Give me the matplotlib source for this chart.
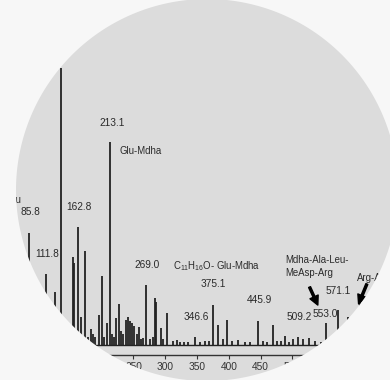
import numpy as np
import matplotlib
matplotlib.use('Agg')
import matplotlib.pyplot as plt
from matplotlib.path import Path
from matplotlib.patches import PathPatch
from matplotlib.transforms import IdentityTransform

# peaks (m/z, relative intensity)
PeakMz = [85.8, 111.8, 126.6, 135.6, 140.0, 145.0, 148.0, 155.0, 156.5, 162.8,
          167.5, 174.3, 178.0, 182.7, 186.0, 190.0, 195.3, 200.0, 204.0, 208.9,
          213.1, 216.0, 219.0, 222.5, 226.8, 231.0, 234.0, 238.3, 241.9, 245.0,
          247.1, 251.2, 255.0, 259.1, 262.0, 265.4, 269.0, 276.0, 280.0, 284.5,
          286.0, 292.8, 297.0, 303.2, 312.6, 317.9, 323.0, 329.9, 336.0, 346.6,
          355.0, 362.5, 368.0, 375.1, 383.4, 390.0, 397.7, 405.0, 414.8, 425.0,
          433.0, 445.9, 454.1, 460.0, 469.9, 475.2, 482.0, 488.3, 494.0, 501.3,
          509.2, 517.0, 526.0, 535.4, 545.0, 553.0, 560.0, 571.1, 587.8, 606.0]
PeakInt = [40.5, 25.5, 19.2, 100.0, 3.0, 5.0, 4.0, 31.9, 29.5, 42.7,
           10.0, 34.0, 3.0, 5.8, 4.0, 3.0, 11.0, 24.9, 3.0, 8.0,
           73.3, 4.0, 3.0, 9.7, 14.8, 5.0, 4.0, 9.0, 10.2, 8.5,
           8.0, 6.9, 4.0, 6.6, 2.0, 2.5, 21.7, 2.0, 3.0, 16.8,
           15.5, 6.0, 2.0, 11.4, 1.5, 1.8, 1.0, 1.2, 1.2, 2.8,
           1.2, 1.5, 1.5, 14.4, 7.2, 2.0, 9.0, 1.5, 1.8, 1.2,
           1.0, 8.8, 1.5, 1.2, 7.2, 1.5, 1.5, 3.2, 1.2, 2.0,
           3.0, 2.0, 2.5, 1.5, 1.2, 7.8, 1.5, 12.5, 10.0, 16.8]

# annotations: text, m/z, intensity, alignment
Labels = [("Leu", 73.2, 52.3, 'right'),
          ("85.8", 87.3, 48.0, 'center'),
          ("111.8", 114.0, 32.9, 'center'),
          ("162.8", 164.4, 49.8, 'center'),
          ("213.1", 216.2, 80.1, 'center'),
          ("Glu-Mdha", 227.3, 70.0, 'left'),
          ("269.0", 271.3, 28.9, 'center'),
          (r"$\mathregular{C_{11}H_{16}O}$- Glu-Mdha", 312.2, 28.5, 'left'),
          ("375.1", 375.1, 22.0, 'center'),
          ("346.6", 348.3, 10.1, 'center'),
          ("445.9", 447.4, 16.2, 'center'),
          ("509.2", 510.3, 10.2, 'center'),
          ("553.0", 551.9, 11.1, 'center'),
          ("571.1", 571.3, 19.5, 'center'),
          ("Mdha-Ala-Leu-", 488.3, 30.7, 'left'),
          ("MeAsp-Arg", 488.3, 26.0, 'left'),
          ("Arg-Ala-Leu-", 601.5, 24.2, 'left')]

Ticks = [50, 100, 150, 200, 250, 300, 350, 400, 450, 500, 550, 600, 650]

plt.rcParams['font.family'] = ['Liberation Sans Narrow', 'Liberation Sans', 'DejaVu Sans']

fig = plt.figure(figsize=(3.9, 3.8), dpi=100, facecolor='#dcdcdc')
ax = fig.add_axes([0, 25 / 380, 1, 355 / 380])
ax.set_facecolor('none')

ax.vlines(PeakMz, 0, PeakInt, color='#222222', lw=1.3)
ax.hlines(0, min(PeakMz) - 10, max(PeakMz) + 20, color='#222222', lw=1.0)

for txt, mz, inten, ha in Labels:
    fs = 7.3 if txt[0].isdigit() else 6.9
    ax.text(mz, inten, txt, ha=ha, va='center', fontsize=fs, color='#2a2a2a')

ax.annotate('', xy=(539.9, 14.4), xytext=(526.9, 20.9),
            arrowprops=dict(facecolor='black', edgecolor='black', width=1.5,
                            headwidth=6.5, headlength=6.5, shrink=0))
ax.annotate('', xy=(604.0, 14.8), xytext=(617.0, 22.0),
            arrowprops=dict(facecolor='black', edgecolor='black', width=1.5,
                            headwidth=6.5, headlength=6.5, shrink=0))

ax.set_xlim(40.1, 653.4)
ax.set_ylim(-3.61, 124.5)
ax.set_xticks(Ticks)
ax.set_yticks([])
for s in ['left', 'top', 'right']:
    ax.spines[s].set_visible(False)
ax.spines['bottom'].set_color('#333333')
ax.spines['bottom'].set_linewidth(1.0)
ax.tick_params(axis='x', direction='out', length=2.6, width=0.8, pad=2.8,
               labelsize=7.3, colors='#333333')

# round crop: mask everything outside the circle
cx, cy, r = 207, 190, 191
t = np.linspace(0, 2 * np.pi, 400)
outer = [(0, 0), (390, 0), (390, 380), (0, 380), (0, 0)]
inner = list(zip(cx + r * np.cos(t), cy - r * np.sin(t)))
verts = outer + inner + [inner[0]]
codes = ([Path.MOVETO] + [Path.LINETO] * 3 + [Path.CLOSEPOLY] +
         [Path.MOVETO] + [Path.LINETO] * (len(inner) - 1) + [Path.CLOSEPOLY])
mask = PathPatch(Path(verts, codes), transform=IdentityTransform(),
                 facecolor='#f7f7f7', edgecolor='none', zorder=100)
fig.add_artist(mask)

fig.savefig('out.png', dpi=100)
